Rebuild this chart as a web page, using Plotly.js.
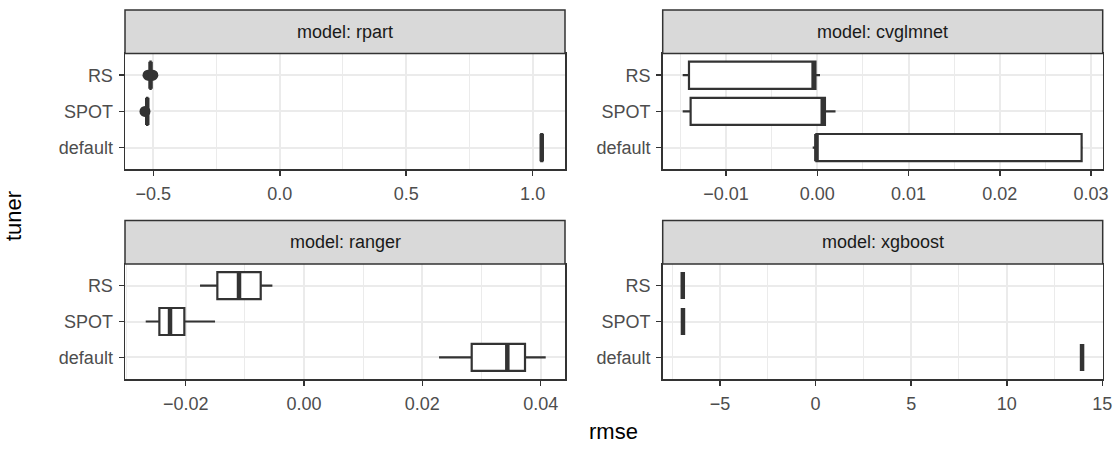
<!DOCTYPE html>
<html>
<head>
<meta charset="utf-8">
<script src="https://cdn.plot.ly/plotly-3.0.1.min.js"></script>
<style>html,body{margin:0;padding:0;background:#fff;}#chart{width:1120px;height:450px;}</style>
</head>
<body>
<div id="chart"></div>
<script>
// ---------- data ----------
const models = ['rpart', 'cvglmnet', 'ranger', 'xgboost'];
const tuners = ['RS', 'SPOT', 'default'];
const tunerPos = [2, 1, 0];           // vertical order: RS top, default bottom
const tickLabelsY = ['default', 'SPOT', 'RS'];

// box statistics per model, order = tuners (RS, SPOT, default)
const rpartLower  = [-0.5115, -0.5245, 1.034];
const rpartQ1     = [-0.5115, -0.5245, 1.034];
const rpartMedian = [-0.511, -0.524, 1.036];
const rpartQ3     = [-0.5105, -0.5235, 1.038];
const rpartUpper  = [-0.5105, -0.5235, 1.038];
const rpartOutRS   = [-0.521, -0.514, -0.507, -0.502];
const rpartOutSPOT = [-0.533];

const cvLower  = [-0.01475, -0.01475, -0.0005];
const cvQ1     = [-0.01406, -0.01388, -0.0001];
const cvMedian = [-0.0004, 0.0006, -0.0001];
const cvQ3     = [-0.0002, 0.00084, 0.02897];
const cvUpper  = [0.0003, 0.0020, 0.0291];

const rangerLower  = [-0.01758, -0.02676, 0.02282];
const rangerQ1     = [-0.01465, -0.02445, 0.02834];
const rangerMedian = [-0.01099, -0.02265, 0.03436];
const rangerQ3     = [-0.00732, -0.02023, 0.03735];
const rangerUpper  = [-0.00535, -0.01504, 0.04085];

const xgbLower  = [-6.95, -6.94, 13.94];
const xgbQ1     = [-6.95, -6.94, 13.94];
const xgbMedian = [-6.95, -6.94, 13.94];
const xgbQ3     = [-6.95, -6.94, 13.94];
const xgbUpper  = [-6.95, -6.94, 13.94];

// axis ticks
const rpartTicks = [-0.5, 0, 0.5, 1.0];
const rpartTickText = ['\u22120.5', '0.0', '0.5', '1.0'];
const rpartMinor = [-0.25, 0.25, 0.75];
const cvTicks = [-0.01, 0, 0.01, 0.02, 0.03];
const cvTickText = ['\u22120.01', '0.00', '0.01', '0.02', '0.03'];
const cvMinor = [-0.015, -0.005, 0.005, 0.015, 0.025];
const rangerTicks = [-0.02, 0, 0.02, 0.04];
const rangerTickText = ['\u22120.02', '0.00', '0.02', '0.04'];
const rangerMinor = [-0.03, -0.01, 0.01, 0.03];
const xgbTicks = [-5, 0, 5, 10, 15];
const xgbTickText = ['\u22125', '0', '5', '10', '15'];
const xgbMinor = [-7.5, -2.5, 2.5, 7.5, 12.5];

// ---------- build ----------
const DARK = '#333333';
const FONT = 'Liberation Sans, Arial, Helvetica, sans-serif';
const BOXW = 0.75;
const TICKSIZE = 18;

const panels = [
  {name: models[0], lo: rpartLower, q1: rpartQ1, med: rpartMedian, q3: rpartQ3, hi: rpartUpper,
   ticks: rpartTicks, text: rpartTickText, minor: rpartMinor, range: [-0.612, 1.128]},
  {name: models[1], lo: cvLower, q1: cvQ1, med: cvMedian, q3: cvQ3, hi: cvUpper,
   ticks: cvTicks, text: cvTickText, minor: cvMinor, range: [-0.01694, 0.03128]},
  {name: models[2], lo: rangerLower, q1: rangerQ1, med: rangerMedian, q3: rangerQ3, hi: rangerUpper,
   ticks: rangerTicks, text: rangerTickText, minor: rangerMinor, range: [-0.03026, 0.04411]},
  {name: models[3], lo: xgbLower, q1: xgbQ1, med: xgbMedian, q3: xgbQ3, hi: xgbUpper,
   ticks: xgbTicks, text: xgbTickText, minor: xgbMinor, range: [-8.0, 15.02]}
];

const W = 1120, H = 450;
const colDom = [[125 / W, 565 / W], [662.7 / W, 1102.7 / W]];
const rowDom = [[1 - 169.3 / H, 1 - 53.5 / H], [1 - 379 / H, 1 - 264 / H]];
const stripH = 43.5 / H;

const traces = [];
const layout = {
  width: W, height: H,
  margin: {l: 0, r: 0, t: 0, b: 0},
  paper_bgcolor: '#ffffff', plot_bgcolor: '#ffffff',
  showlegend: false,
  font: {family: FONT, color: '#4d4d4d', size: TICKSIZE},
  shapes: [], annotations: []
};

// rpart outliers first (drawn beneath the boxes, like ggplot)
traces.push({
  type: 'scatter', mode: 'markers', xaxis: 'x', yaxis: 'y',
  x: rpartOutRS, y: rpartOutRS.map(() => tunerPos[0]),
  marker: {color: DARK, size: 11}, hoverinfo: 'skip'
});
traces.push({
  type: 'scatter', mode: 'markers', xaxis: 'x', yaxis: 'y',
  x: rpartOutSPOT, y: rpartOutSPOT.map(() => tunerPos[1]),
  marker: {color: DARK, size: 11}, hoverinfo: 'skip'
});

panels.forEach((p, i) => {
  const k = i + 1;
  const xa = k === 1 ? 'x' : 'x' + k;
  const ya = k === 1 ? 'y' : 'y' + k;
  const col = i % 2, row = Math.floor(i / 2);

  tuners.forEach((t, j) => {
    traces.push({
      type: 'box', orientation: 'h', xaxis: xa, yaxis: ya,
      y: [tunerPos[j]], q1: [p.q1[j]], median: [p.med[j]], q3: [p.q3[j]],
      lowerfence: [p.lo[j]], upperfence: [p.hi[j]],
      width: BOXW, whiskerwidth: 0, boxpoints: false,
      fillcolor: '#ffffff', line: {color: DARK, width: 2.2},
      hoverinfo: 'skip', name: t
    });
    traces.push({
      type: 'scatter', mode: 'lines', xaxis: xa, yaxis: ya,
      x: [p.med[j], p.med[j]], y: [tunerPos[j] - BOXW / 2, tunerPos[j] + BOXW / 2],
      line: {color: DARK, width: 4.5}, hoverinfo: 'skip'
    });
  });

  const ax = {
    domain: colDom[col], anchor: ya, range: p.range,
    tickmode: 'array', tickvals: p.ticks, ticktext: p.text,
    ticks: 'outside', ticklen: 5, tickwidth: 1.5, tickcolor: DARK,
    ticklabelstandoff: 3,
    tickfont: {family: FONT, size: TICKSIZE, color: '#4d4d4d'},
    showgrid: true, gridcolor: '#ebebeb', gridwidth: 2,
    minor: {tickmode: 'array', tickvals: p.minor, showgrid: true, gridcolor: '#ebebeb', gridwidth: 1, ticks: ''},
    zeroline: false, showline: true, mirror: true, linecolor: DARK, linewidth: 1.5,
    fixedrange: true
  };
  const ay = {
    domain: rowDom[row], anchor: xa, range: [-0.6, 2.6],
    tickmode: 'array', tickvals: [0, 1, 2], ticktext: tickLabelsY,
    ticks: 'outside', ticklen: 5, tickwidth: 1.5, tickcolor: DARK,
    ticklabelstandoff: 2,
    tickfont: {family: FONT, size: TICKSIZE, color: '#4d4d4d'},
    showgrid: true, gridcolor: '#ebebeb', gridwidth: 2,
    zeroline: false, showline: true, mirror: true, linecolor: DARK, linewidth: 1.5,
    fixedrange: true
  };
  layout[k === 1 ? 'xaxis' : 'xaxis' + k] = ax;
  layout[k === 1 ? 'yaxis' : 'yaxis' + k] = ay;

  layout.shapes.push({
    type: 'rect', xref: 'paper', yref: 'paper', layer: 'above',
    x0: colDom[col][0], x1: colDom[col][1],
    y0: rowDom[row][1], y1: rowDom[row][1] + stripH,
    fillcolor: '#d9d9d9', line: {color: DARK, width: 1.5}
  });
  layout.annotations.push({
    xref: 'paper', yref: 'paper', showarrow: false,
    x: (colDom[col][0] + colDom[col][1]) / 2, y: rowDom[row][1] + stripH / 2,
    xanchor: 'center', yanchor: 'middle',
    text: 'model: ' + p.name, font: {family: FONT, size: TICKSIZE, color: '#1a1a1a'}
  });
});

layout.annotations.push({
  xref: 'paper', yref: 'paper', showarrow: false,
  x: (colDom[0][0] + colDom[1][1]) / 2, y: 1 - 431 / H,
  xanchor: 'center', yanchor: 'middle',
  text: 'rmse', font: {family: FONT, size: 22, color: '#000000'}
});
layout.annotations.push({
  xref: 'paper', yref: 'paper', showarrow: false,
  x: 13 / W, y: 1 - 216 / H, textangle: -90,
  xanchor: 'center', yanchor: 'middle',
  text: 'tuner', font: {family: FONT, size: 22, color: '#000000'}
});

Plotly.newPlot('chart', traces, layout, {staticPlot: true, displayModeBar: false});
</script>
</body>
</html>
